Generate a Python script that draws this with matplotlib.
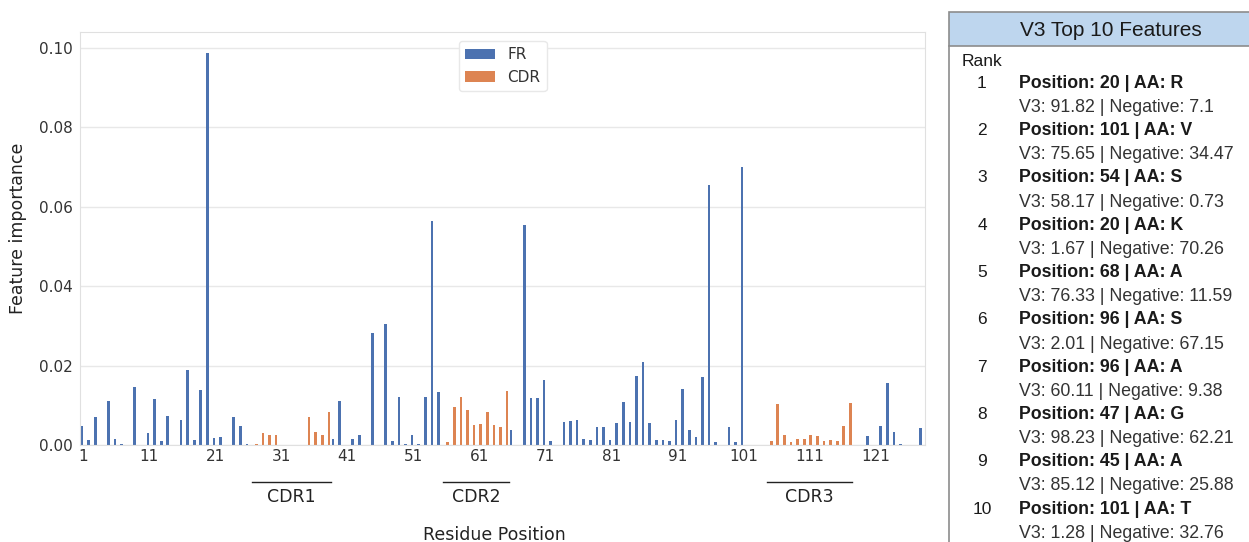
import matplotlib.pyplot as plt
from matplotlib.patches import Rectangle
from matplotlib.lines import Line2D
import matplotlib.transforms as mtransforms

# feature importance per IMGT residue position
positions = list(range(1, 129))
importance = [
    0.0048, 0.0013, 0.0071, 0.0, 0.0110, 0.0014, 0.0002, 0.0, 0.0146, 0.0,
    0.0030, 0.0116, 0.0011, 0.0074, 0.0, 0.0062, 0.0189, 0.0013, 0.0139, 0.0987,
    0.0017, 0.0021, 0.0, 0.0070, 0.0049, 0.0003, 0.0002, 0.0030, 0.0026, 0.0026,
    0.0, 0.0, 0.0, 0.0, 0.0070, 0.0032, 0.0025, 0.0084, 0.0014, 0.0111,
    0.0, 0.0015, 0.0026, 0.0, 0.0282, 0.0, 0.0304, 0.0010, 0.0120, 0.0002,
    0.0026, 0.0002, 0.0122, 0.0565, 0.0134, 0.0007, 0.0095, 0.0122, 0.0088, 0.0050,
    0.0052, 0.0082, 0.0050, 0.0046, 0.0136, 0.0039, 0.0, 0.0553, 0.0118, 0.0118,
    0.0164, 0.0010, 0.0, 0.0059, 0.0061, 0.0063, 0.0015, 0.0013, 0.0045, 0.0045,
    0.0013, 0.0055, 0.0108, 0.0059, 0.0175, 0.0208, 0.0056, 0.0013, 0.0013, 0.0010,
    0.0062, 0.0141, 0.0038, 0.0020, 0.0170, 0.0655, 0.0007, 0.0, 0.0045, 0.0007,
    0.0700, 0.0, 0.0, 0.0, 0.0011, 0.0104, 0.0026, 0.0007, 0.0016, 0.0014,
    0.0024, 0.0023, 0.0010, 0.0012, 0.0011, 0.0049, 0.0107, 0.0, 0.0, 0.0022,
    0.0, 0.0049, 0.0157, 0.0033, 0.0003, 0.0, 0.0, 0.0043,
]
cdr_names = ['CDR1', 'CDR2', 'CDR3']
cdr_start = [27, 56, 105]
cdr_end = [38, 65, 117]
tick_positions = list(range(1, 129, 10))

# top 10 table
top_pos = [20, 101, 54, 20, 68, 96, 96, 47, 45, 101]
top_aa = ['R', 'V', 'S', 'K', 'A', 'S', 'A', 'G', 'A', 'T']
v3_pct = [91.82, 75.65, 58.17, 1.67, 76.33, 2.01, 60.11, 98.23, 85.12, 1.28]
neg_pct = [7.1, 34.47, 0.73, 70.26, 11.59, 67.15, 9.38, 62.21, 25.88, 32.76]

W, H = 1249, 542
fig = plt.figure(figsize=(W / 100, H / 100), dpi=100)


def fx(x):
    return x / W


def fy(y):
    return 1 - y / H


blue = '#4C72B0'
orange = '#DD8452'
txt = '#333333'

ax = fig.add_axes([fx(80), fy(445), fx(925 - 80), (445 - 32) / H])

is_cdr = [any(s <= p <= e for s, e in zip(cdr_start, cdr_end)) for p in positions]
fr_x = [p - 1 - 0.2 for p, c in zip(positions, is_cdr) if not c]
fr_y = [v for v, c in zip(importance, is_cdr) if not c]
cdr_x = [p - 1 + 0.2 for p, c in zip(positions, is_cdr) if c]
cdr_y = [v for v, c in zip(importance, is_cdr) if c]
ax.bar(fr_x, fr_y, width=0.4, color=blue, linewidth=0, label='FR', zorder=2)
ax.bar(cdr_x, cdr_y, width=0.4, color=orange, linewidth=0, label='CDR', zorder=2)

ax.set_xlim(-0.5, len(positions) - 0.5)
ax.set_ylim(0, 0.104)
ax.set_yticks([0, 0.02, 0.04, 0.06, 0.08, 0.10])
ax.set_yticklabels(['0.00', '0.02', '0.04', '0.06', '0.08', '0.10'])
ax.set_xticks([p - 1 for p in tick_positions])
ax.set_xticklabels([str(p) for p in tick_positions])
ax.tick_params(axis='both', length=0, labelsize=11, colors=txt)
ax.tick_params(axis='x', pad=3)
ax.tick_params(axis='y', pad=5)
ax.yaxis.grid(True, color='#e8e8e8', linewidth=1, zorder=0)
ax.xaxis.grid(False)
ax.set_axisbelow(True)
for s in ax.spines.values():
    s.set_color('#e0e0e0')

ax.set_ylabel('Feature importance', fontsize=12.5, color='#222222')
ax.yaxis.set_label_coords(-0.063, 0.525)
ax.set_xlabel('Residue Position', fontsize=12.5, color='#222222', va='top')
ax.xaxis.set_label_coords(0.49, -0.196)

# CDR annotations under the axis
trans = mtransforms.blended_transform_factory(ax.transData, ax.transAxes)
for name, s, e in zip(cdr_names, cdr_start, cdr_end):
    ax.add_line(Line2D([s - 1.5, e - 0.5], [-0.09, -0.09], color='#222222',
                       linewidth=1, transform=trans, clip_on=False))
    ax.text((s + e) / 2 - 1, -0.125, name, transform=trans, ha='center',
            va='center', fontsize=12.5, color='#222222')

leg = ax.legend(loc='upper center', fontsize=11, frameon=True, framealpha=1,
                edgecolor='#e8e8e8', borderaxespad=0.6)
for t in leg.get_texts():
    t.set_color(txt)

# right side table
fig.patches.append(Rectangle((fx(949), fy(46)), fx(400), (46 - 12) / H,
                             transform=fig.transFigure, facecolor='#bed6ee',
                             edgecolor='#8c8c8c', linewidth=1.2))
fig.add_artist(Line2D([fx(949), fx(949)], [fy(46), fy(560)], color='#8c8c8c',
                      linewidth=1.2, transform=fig.transFigure))
fig.text(fx(1111), fy(30), 'V3 Top 10 Features', fontsize=15,
         family='Liberation Sans', ha='center', va='center', color='#1a1a1a')
fig.text(fx(962), fy(61), 'Rank', fontsize=12.5, family='Liberation Sans',
         ha='left', va='center', color='#1a1a1a')
for i in range(len(top_pos)):
    y = 83.3 + i * 47.3
    fig.text(fx(982), fy(y), str(i + 1), fontsize=12.5, family='Liberation Sans',
             ha='center', va='center', color='#1a1a1a')
    fig.text(fx(1019), fy(y), f'Position: {top_pos[i]} | AA: {top_aa[i]}',
             fontsize=12.8, family='Liberation Sans', fontweight='bold',
             ha='left', va='center', color='#1a1a1a')
    fig.text(fx(1019), fy(y + 24.3), f'V3: {v3_pct[i]} | Negative: {neg_pct[i]}',
             fontsize=12.8, family='Liberation Sans', ha='left', va='center',
             color='#333333')

fig.savefig('out.png', dpi=100)
